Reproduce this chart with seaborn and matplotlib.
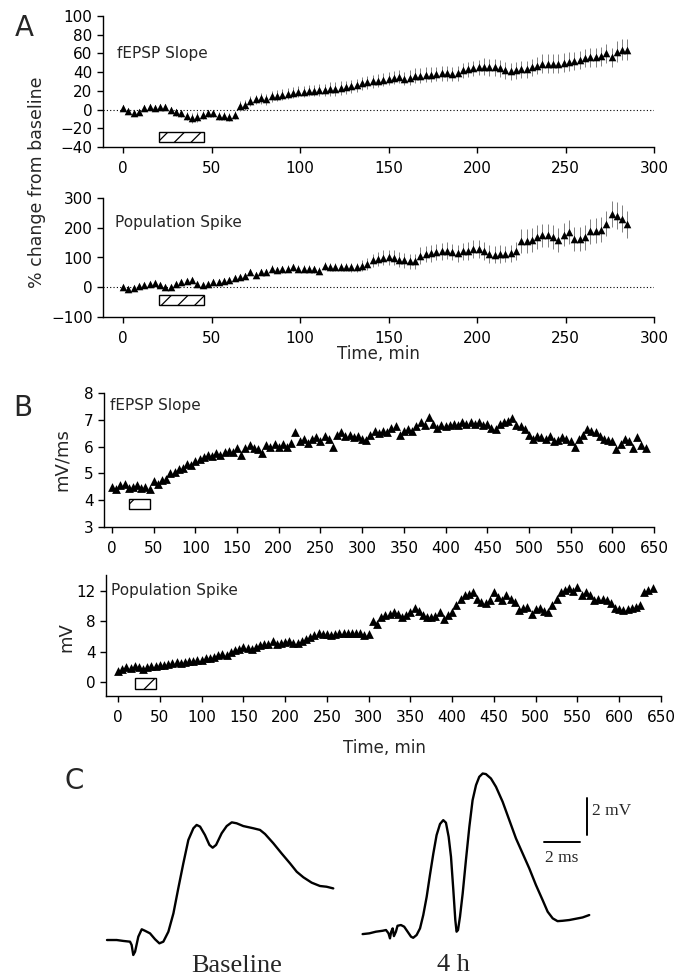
import matplotlib
matplotlib.use("Agg")
import matplotlib.pyplot as plt
from matplotlib.patches import Rectangle
import numpy as np
import pandas as pd
import seaborn as sns

# ── Panel A: % change from baseline, mean ± SEM (every 3 min) ────────────────
A_TIME = np.arange(0, 286, 3)
A_SLOPE = [2, -2, -4, -3, 2, 3, 2, 3, 3, 0,
           -3, -4, -7, -9, -8, -6, -4, -4, -7, -7,
           -8, -6, 4, 5, 9, 11, 12, 11, 14, 15,
           16, 17, 18, 19, 19, 20, 20, 21, 21, 22,
           22, 23, 24, 25, 26, 28, 29, 30, 31, 32,
           33, 34, 35, 33, 34, 36, 36, 37, 37, 38,
           39, 39, 38, 39, 42, 43, 44, 45, 46, 45,
           45, 44, 42, 41, 42, 43, 43, 45, 47, 49,
           49, 49, 49, 50, 51, 52, 53, 55, 56, 56,
           57, 60, 56, 62, 64, 64]
A_SLOPE_SEM = [3, 3, 3, 3, 3, 3, 3, 3, 3, 3,
               4, 4, 4, 5, 5, 4, 4, 4, 4, 4,
               4, 4, 5, 5, 5, 5, 6, 6, 6, 6,
               6, 6, 6, 6, 6, 6, 6, 6, 6, 7,
               7, 7, 7, 7, 7, 7, 7, 7, 7, 7,
               7, 7, 7, 7, 8, 8, 8, 8, 8, 8,
               8, 8, 8, 8, 8, 8, 8, 8, 9, 9,
               9, 9, 9, 9, 9, 9, 9, 9, 9, 10,
               10, 10, 10, 10, 10, 10, 10, 10, 10, 10,
               10, 10, 10, 11, 11, 11]
A_SPIKE = [2, -7, -3, 4, 8, 10, 13, 8, 0, 2,
           11, 16, 22, 24, 11, 8, 11, 19, 19, 22,
           24, 30, 33, 38, 52, 41, 52, 52, 63, 58,
           60, 63, 67, 63, 63, 63, 60, 56, 71, 69,
           67, 69, 69, 67, 67, 73, 78, 90, 95, 99,
           101, 99, 92, 90, 87, 87, 106, 112, 114, 118,
           121, 123, 118, 114, 121, 123, 129, 129, 123, 112,
           110, 112, 112, 114, 123, 155, 155, 159, 168, 174,
           174, 170, 159, 177, 185, 162, 162, 168, 188, 190,
           193, 213, 246, 241, 230, 211]
A_SPIKE_SEM = [6, 6, 6, 6, 6, 6, 6, 6, 6, 6,
               7, 7, 7, 7, 7, 7, 7, 8, 8, 8,
               8, 8, 9, 9, 10, 10, 10, 10, 11, 11,
               11, 12, 12, 12, 12, 12, 12, 12, 13, 13,
               13, 14, 14, 15, 16, 18, 20, 22, 24, 25,
               25, 25, 25, 25, 25, 26, 28, 28, 28, 28,
               28, 28, 28, 28, 28, 30, 30, 30, 30, 30,
               30, 30, 28, 28, 30, 40, 40, 40, 40, 40,
               40, 40, 40, 40, 40, 40, 40, 42, 42, 42,
               42, 42, 45, 45, 45, 45]

# ── Panel B: single experiment (every 5 min) ─────────────────────────────────
B_TIME = np.arange(0, 645, 5)
B_SLOPE = [4.5, 4.4, 4.55, 4.6, 4.45, 4.5, 4.55, 4.45, 4.5, 4.4,
           4.7, 4.6, 4.75, 4.8, 5.0, 5.05, 5.15, 5.2, 5.35, 5.3,
           5.45, 5.55, 5.6, 5.7, 5.65, 5.75, 5.7, 5.8, 5.85, 5.8,
           5.95, 5.7, 5.95, 6.05, 5.95, 5.9, 5.75, 6.05, 6.0, 6.1,
           6.0, 6.1, 6.0, 6.15, 6.55, 6.2, 6.3, 6.15, 6.3, 6.35,
           6.2, 6.4, 6.3, 6.0, 6.45, 6.55, 6.4, 6.45, 6.35, 6.4,
           6.3, 6.25, 6.45, 6.6, 6.5, 6.6, 6.55, 6.7, 6.75, 6.45,
           6.6, 6.65, 6.6, 6.75, 6.9, 6.8, 7.1, 6.85, 6.7, 6.8,
           6.75, 6.8, 6.85, 6.8, 6.9, 6.85, 6.9, 6.85, 6.9, 6.8,
           6.85, 6.7, 6.65, 6.85, 6.9, 6.95, 7.05, 6.8, 6.75, 6.65,
           6.45, 6.3, 6.4, 6.35, 6.3, 6.4, 6.2, 6.25, 6.35, 6.3,
           6.2, 6.0, 6.3, 6.45, 6.65, 6.6, 6.55, 6.4, 6.3, 6.25,
           6.2, 5.9, 6.1, 6.3, 6.2, 5.95, 6.35, 6.05, 5.95]
B_SPIKE = [1.5, 1.75, 1.95, 1.85, 2.05, 1.95, 1.75, 2.0, 2.05, 2.1,
           2.3, 2.3, 2.4, 2.5, 2.65, 2.5, 2.65, 2.8, 2.7, 2.85,
           2.95, 3.1, 3.2, 3.3, 3.5, 3.75, 3.6, 4.0, 4.2, 4.4,
           4.6, 4.5, 4.35, 4.6, 4.85, 5.0, 5.0, 5.35, 5.05, 5.15,
           5.3, 5.4, 5.15, 5.1, 5.4, 5.7, 5.95, 6.15, 6.4, 6.3,
           6.3, 6.15, 6.3, 6.4, 6.5, 6.5, 6.4, 6.45, 6.4, 6.2,
           6.3, 8.1, 7.7, 8.6, 8.8, 9.0, 9.25, 9.0, 8.6, 8.8,
           9.2, 9.7, 9.3, 8.8, 8.6, 8.5, 8.7, 9.2, 8.3, 8.8,
           9.2, 10.1, 10.9, 11.45, 11.6, 11.9, 11.0, 10.6, 10.35, 10.8,
           11.9, 11.2, 10.8, 11.4, 11.0, 10.6, 9.5, 9.8, 9.9, 9.0,
           9.6, 9.7, 9.3, 9.25, 10.2, 11.0, 11.9, 12.1, 12.35, 12.0,
           12.55, 11.45, 11.9, 11.5, 10.8, 10.9, 11.0, 10.8, 10.35, 9.7,
           9.6, 9.5, 9.6, 9.8, 9.9, 10.1, 11.9, 12.1, 12.35]

# drug application window (min)
DRUG_START = 20.5
DRUG_END = 45.5

# ── Panel C: example field potentials (ms, mV) ───────────────────────────────
BASE_MS = [0.0, 0.54, 0.91, 1.28, 1.37, 1.46, 1.56, 1.74, 1.93, 2.11, 2.39, 2.67,
           2.91, 3.13, 3.41, 3.69, 3.96, 4.24, 4.52, 4.80, 4.98, 5.17, 5.44, 5.69,
           5.87, 6.06, 6.37, 6.65, 6.93, 7.20, 7.57, 8.13, 8.50, 8.78, 9.24, 9.70,
           10.17, 10.54, 10.91, 11.37, 11.83, 12.20, 12.57]
BASE_MV = [0.0, 0.0, -0.05, -0.09, -0.27, -0.81, -0.63, 0.18, 0.58, 0.50, 0.36, 0.04,
           -0.18, -0.09, 0.45, 1.44, 2.79, 4.14, 5.41, 6.04, 6.22, 6.13, 5.68, 5.14,
           4.99, 5.14, 5.77, 6.16, 6.36, 6.31, 6.16, 6.04, 5.95, 5.73, 5.23, 4.68,
           4.14, 3.69, 3.39, 3.10, 2.92, 2.88, 2.79]
H4_MS = [0.0, 0.37, 0.74, 1.11, 1.30, 1.44, 1.52, 1.59, 1.67, 1.74, 1.85, 1.94,
         2.13, 2.31, 2.50, 2.69, 2.81, 3.00, 3.19, 3.37, 3.56, 3.74, 3.93, 4.11,
         4.30, 4.48, 4.63, 4.78, 4.91, 5.04, 5.15, 5.22, 5.30, 5.41, 5.56, 5.74,
         5.93, 6.11, 6.30, 6.48, 6.67, 6.85, 7.13, 7.41, 7.78, 8.15, 8.52, 8.89,
         9.26, 9.63, 10.00, 10.28, 10.56, 10.83, 11.11, 11.48, 11.85, 12.22, 12.59]
H4_MV = [0.0, 0.04, 0.13, 0.18, 0.22, 0.04, -0.23, 0.13, 0.31, -0.11, 0.13, 0.45,
         0.49, 0.40, 0.13, -0.14, -0.20, -0.05, 0.31, 1.03, 2.02, 3.19, 4.36, 5.35,
         5.95, 6.16, 6.02, 5.26, 4.18, 2.38, 0.76, 0.13, 0.22, 0.94, 2.20, 4.00,
         5.80, 7.24, 8.05, 8.50, 8.68, 8.65, 8.41, 7.96, 7.15, 6.16, 5.17, 4.36,
         3.55, 2.65, 1.84, 1.21, 0.85, 0.70, 0.72, 0.76, 0.83, 0.90, 1.03]
SCALE_MS = 2
SCALE_MV = 2

# ──────────────────────────────────────────────────────────────────────────────
sns.set_theme(style="ticks", rc={"axes.linewidth": 1.0, "xtick.major.width": 1.0,
                                 "ytick.major.width": 1.0, "hatch.linewidth": 0.9})
plt.rcParams["font.family"] = ["DejaVu Sans"]

W, H = 690, 980
fig = plt.figure(figsize=(W / 100, H / 100), dpi=100)


def px_axes(left, top, right, bottom):
    return fig.add_axes([left / W, 1 - bottom / H, (right - left) / W, (bottom - top) / H])


def style_axis(ax, xlim, ylim, xticks, yticks):
    ax.set_xlim(*xlim)
    ax.set_ylim(*ylim)
    ax.set_xticks(xticks)
    ax.set_yticks(yticks)
    ax.tick_params(axis="both", direction="out", length=4, labelsize=11, colors="black")
    ax.tick_params(axis="x", pad=6)
    ax.set_xlabel("")
    ax.set_ylabel("")
    sns.despine(ax=ax)
    for s in ("left", "bottom"):
        ax.spines[s].set_color("black")


def draw_mean_sem(ax, t, mean, sem):
    mean = np.asarray(mean, float)
    sem = np.asarray(sem, float)
    ax.vlines(t, mean - sem, mean + sem, color="0.5", lw=0.7, zorder=2)
    sns.scatterplot(x=t, y=mean, marker="^", s=30, color="black", linewidth=0,
                    ax=ax, zorder=3, legend=False)


def drug_box(ax, y0, height, hatch):
    ax.add_patch(Rectangle((DRUG_START, y0), DRUG_END - DRUG_START, height,
                           fill=False, hatch=hatch, lw=1.0, edgecolor="black", zorder=4))


# ── A top ────────────────────────────────────────────────────────────────────
ax = px_axes(103, 16, 654, 147)
draw_mean_sem(ax, A_TIME, A_SLOPE, A_SLOPE_SEM)
ax.axhline(0, color="black", lw=0.8, ls=(0, (1, 2)), zorder=1)
drug_box(ax, -34.5, 11, "//")
style_axis(ax, (-11.3, 300), (-40, 100), range(0, 301, 50), range(-40, 101, 20))
ax.text(0.025, 0.71, "fEPSP Slope", transform=ax.transAxes, fontsize=11, va="center")

# ── A bottom ─────────────────────────────────────────────────────────────────
ax = px_axes(103, 198, 654, 317)
draw_mean_sem(ax, A_TIME, A_SPIKE, A_SPIKE_SEM)
ax.axhline(0, color="black", lw=0.8, ls=(0, (1, 2)), zorder=1)
drug_box(ax, -61, 35, "//")
style_axis(ax, (-11.3, 300), (-100, 300), range(0, 301, 50), range(-100, 301, 100))
ax.text(0.022, 0.79, "Population Spike", transform=ax.transAxes, fontsize=11, va="center")

fig.text(37 / W, 1 - 182 / H, "% change from baseline", rotation=90,
         ha="center", va="center", fontsize=12.5)
fig.text(378 / W, 1 - 354 / H, "Time, min", ha="center", va="center", fontsize=12)

# ── B top ────────────────────────────────────────────────────────────────────
ax = px_axes(104, 393, 654, 527)
sns.scatterplot(x=B_TIME, y=B_SLOPE, marker="^", s=40, color="black", linewidth=0,
                ax=ax, legend=False, zorder=3)
drug_box(ax, 3.69, 0.37, "/")
style_axis(ax, (-9.6, 650), (3, 8), range(0, 651, 50), range(3, 9))
ax.text(0.01, 0.91, "fEPSP Slope", transform=ax.transAxes, fontsize=11, va="center")
fig.text(62 / W, 1 - 460 / H, "mV/ms", rotation=90, ha="center", va="center", fontsize=13)

# ── B bottom ─────────────────────────────────────────────────────────────────
ax = px_axes(106, 575, 661, 696)
sns.scatterplot(x=B_TIME, y=B_SPIKE, marker="^", s=40, color="black", linewidth=0,
                ax=ax, legend=False, zorder=3)
drug_box(ax, -0.88, 1.41, "/")
style_axis(ax, (-14.4, 650), (-1.85, 14.1), range(0, 651, 50), range(0, 13, 4))
ax.text(0.009, 0.876, "Population Spike", transform=ax.transAxes, fontsize=11, va="center")
fig.text(66 / W, 1 - 637 / H, "mV", rotation=90, ha="center", va="center", fontsize=13)
fig.text(384 / W, 1 - 748 / H, "Time, min", ha="center", va="center", fontsize=12)

# ── C traces ─────────────────────────────────────────────────────────────────
axc = px_axes(90, 760, 640, 960)
axc.set_xlim(-0.944, 29.61)
axc.set_ylim(-1.08, 9.73)
axc.axis("off")
base = pd.DataFrame({"ms": BASE_MS, "mV": BASE_MV})
late = pd.DataFrame({"ms": np.asarray(H4_MS) + 14.2, "mV": np.asarray(H4_MV) + 0.32})
for df in (base, late):
    sns.lineplot(data=df, x="ms", y="mV", sort=False, estimator=None,
                 color="black", lw=1.7, ax=axc)
# scale bars
bx, by = 24.28, 5.30
axc.plot([bx, bx + SCALE_MS], [by, by], color="black", lw=1.4)
vx, vy = 26.67, 5.68
axc.plot([vx, vx], [vy, vy + SCALE_MV], color="black", lw=1.4)
axc.text(vx + 0.25, 7.0, f"{SCALE_MV} mV", family="Liberation Serif", fontsize=12.5,
         va="center", ha="left")
axc.text(bx + SCALE_MS / 2, 4.43, f"{SCALE_MS} ms", family="Liberation Serif",
         fontsize=12.5, va="center", ha="center")
axc.set_xlabel("")
axc.set_ylabel("")

fig.text(237 / W, 1 - 966 / H, "Baseline", family="Liberation Serif", fontsize=19,
         ha="center", va="center")
fig.text(453 / W, 1 - 965 / H, "4 h", family="Liberation Serif", fontsize=19,
         ha="center", va="center")

# panel letters
fig.text(15 / W, 1 - 14 / H, "A", fontsize=20, va="top")
fig.text(13 / W, 1 - 394 / H, "B", fontsize=20, va="top")
fig.text(64 / W, 1 - 767 / H, "C", fontsize=20, va="top")

fig.savefig("out.png", dpi=100)
